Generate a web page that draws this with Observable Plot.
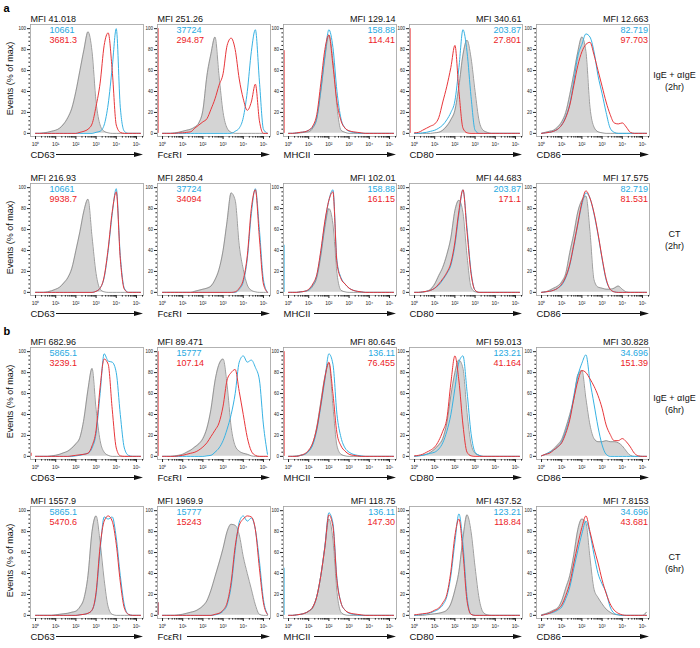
<!DOCTYPE html>
<html>
<head>
<meta charset="utf-8">
<script src="https://cdn.jsdelivr.net/npm/d3@7"></script>
<script src="https://cdn.jsdelivr.net/npm/@observablehq/plot@0.6"></script>
<style>
  body { margin: 0; background: #fff; }
  #chart { position: relative; width: 700px; height: 648px; overflow: hidden; background: #fff; }
</style>
</head>
<body>
<div id="chart"></div>
<script>
// ---------- DATA ----------
// log10 fluorescence grid shared by all histograms (10^0 ... 10^5.2)
const logGrid = [0,0.2,0.4,0.6,0.8,1,1.2,1.4,1.6,1.8,2,2.2,2.4,2.6,2.8,3,3.2,3.4,3.6,3.8,4,4.2,4.4,4.6,4.8,5,5.2];

const markers = ["CD63", "FcεRI", "MHCII", "CD80", "CD86"];
const rowLabels = ["IgE + αIgE\n(2hr)", "CT\n(2hr)", "IgE + αIgE\n(6hr)", "CT\n(6hr)"];
const panelLetters = ["a", "", "b", ""];
const xTickLabels = ["10⁰", "10¹", "10²", "10³", "10⁴", "10⁵"];
const yTickLabels = [0, 20, 40, 60, 80, 100];

// MFI labels (grey / blue / red)
const mfiIgE2 = ["41.018", "251.26", "129.14", "340.61", "12.663"];
const blueIgE2 = ["10661", "37724", "158.88", "203.87", "82.719"];
const redIgE2 = ["3681.3", "294.87", "114.41", "27.801", "97.703"];
const mfiCT2 = ["216.93", "2850.4", "102.01", "44.683", "17.575"];
const blueCT2 = ["10661", "37724", "158.88", "203.87", "82.719"];
const redCT2 = ["9938.7", "34094", "161.15", "171.1", "81.531"];
const mfiIgE6 = ["682.96", "89.471", "80.645", "59.013", "30.828"];
const blueIgE6 = ["5865.1", "15777", "136.11", "123.21", "34.696"];
const redIgE6 = ["3239.1", "107.14", "76.455", "41.164", "151.39"];
const mfiCT6 = ["1557.9", "1969.9", "118.75", "437.52", "7.8153"];
const blueCT6 = ["5865.1", "15777", "136.11", "123.21", "34.696"];
const redCT6 = ["5470.6", "15243", "147.30", "118.84", "43.681"];

// events piled at the lowest channel (% of max), per column
const edgeRedIgE2 = [0, 100, 79, 100, 0];
const edgeBlueIgE2 = [0, 0, 0, 0, 0];
const edgeRedCT2 = [0, 0, 0, 0, 0];
const edgeBlueCT2 = [0, 0, 45, 0, 0];
const edgeRedIgE6 = [3, 100, 100, 0, 0];
const edgeBlueIgE6 = [0, 0, 0, 0, 0];
const edgeRedCT6 = [0, 12, 0, 0, 0];
const edgeBlueCT6 = [0, 12, 45, 0, 0];

// Histograms, % of max, sampled on logGrid
const IgE2_CD63_grey = [0,0,0.5,1,2,3,5,9,15,24,40,60,80,97,78,30,8,2,0.5,0,0,0,0,0,0,0,0];
const IgE2_CD63_blue = [0,0,0,0,0,0,0,0,0,0,0,0,0,0,0,1,2,8,28,63,100,25,2,0,0,0,0];
const IgE2_CD63_red  = [0,0,0,0,0,0,0,0,0,0,0,1,2,4,9,26,48,84,96,60,8,1,0,0,0,0,0];
const IgE2_FceRI_grey = [0,0,0,0.5,1,2,3,4,6,10,22,55,76,92,55,20,5,1,0,0,0,0,0,0,0,0,0];
const IgE2_FceRI_blue = [0,0,0,0,0,0,0,0,0,0,0,0,0,0,0,0,0,0,2,5,15,40,78,99,50,4,0];
const IgE2_FceRI_red  = [0,0,0,0,0.5,0.5,1,1.5,5,8,11,14,23,33,46,57,84,91,80,52,33,22,30,47,12,0,0];
const IgE2_MHCII_grey = [0,0,0,0.5,1,1.5,5,14,40,72,94,70,25,3,1,0,0,0,0,0,0,0,0,0,0,0,0];
const IgE2_MHCII_blue = [0,0,0.5,1,1.5,3,6,15,42,74,99,82,40,14,5,2,1,0.5,0,0,0,0,0,0,0,0,0];
const IgE2_MHCII_red  = [0,0,0.5,1,1.5,3,7,18,48,80,94,65,30,12,5,2.5,1.5,1,0.5,0,0,0,0,0,0,0,0];
const IgE2_CD80_grey = [0,0,0,0,0,0.5,1,3,7,13,22,45,75,89,72,40,12,3,1,0,0,0,0,0,0,0,0];
const IgE2_CD80_blue = [0,0,0.5,1,2,3,5,8,13,20,31,63,99,78,35,3,0,0,0,0,0,0,0,0,0,0,0];
const IgE2_CD80_red  = [0.5,1,3,5,7,9,15,30,45,63,84,40,5,0.5,0,0,0,0,0,0,0,0,0,0,0,0,0];
const IgE2_CD86_grey = [0,1,2,3,6,11,20,37,57,78,92,78,25,6,1.5,0.5,0,0,0,0,0,0,0,0,0,0,0];
const IgE2_CD86_blue = [0,0.5,1,2,4,8,16,28,50,74,85,95,92,78,55,38,20,5,1,0,0,0,0,0,0,0,0];
const IgE2_CD86_red  = [0,0.5,1,2,4,8,15,27,46,65,78,85,87,75,60,45,30,18,10,9,10,6,1,0,0,0,0];

const CT2_CD63_grey = [0,0,0,0.5,1.5,3,5,9,14,23,40,58,78,89,53,18,3,0.5,0,0,0,0,0,0,0,0,0];
const CT2_CD63_blue = [0,0,0,0,0,0,0,0,0,0,0,0,0,0,0,1,4,14,40,75,99,35,4,0,0,0,0];
const CT2_CD63_red  = [0,0,0,0,0,0,0,0,0,0,0,0,0,0,0,1,4,15,42,77,96,32,3,0,0,0,0];
const CT2_FceRI_grey = [0,0,0,0,0,0,0,0,1,2,3,4,6,12,22,40,68,95,88,45,22,7,2,0.5,0,0,0];
const CT2_FceRI_blue = [0,0,0,0,0,0,0,0,0,0,0,0,0,0,0,0,0,0,0,3,10,32,75,99,60,12,0];
const CT2_FceRI_red  = [0,0,0,0,0,0,0,0,0,0,0,0,0,0,0,0,0,0,0.5,4,12,35,80,98,52,8,0];
const CT2_MHCII_grey = [0,0,0,0.5,1,2,6,14,35,62,80,65,18,2,0.5,0,0,0,0,0,0,0,0,0,0,0,0];
const CT2_MHCII_blue = [0,0,0,0.5,1,2.5,7,16,38,66,88,98,30,14,8,4,2,1,0.5,0,0,0,0,0,0,0,0];
const CT2_MHCII_red  = [0,0,0,0.5,1,3,8,17,40,68,88,96,28,13,8,4,2,1,0.5,0,0,0,0,0,0,0,0];
const CT2_CD80_grey = [0,0,0,1,3,8,16,24,36,52,78,88,76,35,5,0.5,0,0,0,0,0,0,0,0,0,0,0];
const CT2_CD80_blue = [0,0,0.5,1,2,4,7,12,18,26,45,75,98,62,20,2,0,0,0,0,0,0,0,0,0,0,0];
const CT2_CD80_red  = [0,0,0.5,1,2,4,8,13,19,28,48,78,98,58,18,2,0,0,0,0,0,0,0,0,0,0,0];
const CT2_CD86_grey = [0,0.5,2,4,6,10,18,38,56,77,88,92,58,12,5,4,3,3,4,6,3,0.5,0,0,0,0,0];
const CT2_CD86_blue = [0,0.5,1,2,4,7,14,26,45,65,84,95,90,75,55,32,12,3,0.5,0,0,0,0,0,0,0,0];
const CT2_CD86_red  = [0,0.5,1,2,4,8,15,27,46,66,86,97,90,76,56,33,13,3,0.5,0,0,0,0,0,0,0,0];

const IgE6_CD63_grey = [0,0,0,0,0.5,1,2,3.5,5,8,12,18,36,64,84,45,15,4,1,0,0,0,0,0,0,0,0];
const IgE6_CD63_blue = [0,0,0,0,0,0,0,0,0,0,0.5,1,2,3,8,22,60,98,91,90,80,40,8,1,0,0,0];
const IgE6_CD63_red  = [0,0,0,0,0,0,0,0,0,0.5,1,1.5,2,3,10,25,66,93,88,45,8,0.5,0,0,0,0,0];
const IgE6_FceRI_grey = [0,0,0,0.5,1,2,4,6,9,12,17,27,45,72,88,93,68,28,10,5,3,2,0.5,0,0,0,0];
const IgE6_FceRI_blue = [0,0,0,0,0,0,0,0,0,0,0,0.5,1,4,8,15,26,40,60,90,96,90,92,85,73,30,2];
const IgE6_FceRI_red  = [0,0,0,0,0.5,1,2,3,4,6,9,13,19,25,32,48,73,80,83,62,40,18,5,1,0,0,0];
const IgE6_MHCII_grey = [0,0,0.5,1,2,5,12,28,52,76,89,48,10,2,0.5,0,0,0,0,0,0,0,0,0,0,0,0];
const IgE6_MHCII_blue = [0,0,0,1,2,5,11,25,48,73,98,88,40,18,8,4,2,1,0.5,0,0,0,0,0,0,0,0];
const IgE6_MHCII_red  = [0,0,0,1,2.5,6,13,27,50,75,90,60,22,10,5,2,1,0.5,0,0,0,0,0,0,0,0,0];
const IgE6_CD80_grey = [0,0.5,1,2,4,7,11,17,32,58,80,92,84,42,12,3,1,0,0,0,0,0,0,0,0,0,0];
const IgE6_CD80_blue = [0,0.5,1,2,3,4,7,13,24,40,65,90,96,62,22,4,1,0,0,0,0,0,0,0,0,0,0];
const IgE6_CD80_red  = [0.5,1,2,4,6,9,15,24,36,70,96,72,30,4,0.5,0,0,0,0,0,0,0,0,0,0,0,0];
const IgE6_CD86_grey = [0.5,2,4,7,11,16,27,40,55,78,82,55,30,17,14,14,15,14,14,13,10,5,1,0,0,0,0];
const IgE6_CD86_blue = [0.5,2,4,6,9,14,24,37,58,77,89,97,72,50,28,11,2,0,0,0,0,0,0,0,0,0,0];
const IgE6_CD86_red  = [0.5,2,3,6,9,13,22,35,55,72,82,80,74,67,58,46,30,21,15,15,17,14,9,3,0.5,0,0];

const CT6_CD63_grey = [0,0,0,0,0,0.5,1,1.5,2,3,4,8,16,38,80,95,70,34,8,1,0,0,0,0,0,0,0];
const CT6_CD63_blue = [0,0,0,0,0,0,0,0,0,0,0,0.5,1,2,5,20,62,94,92,94,74,38,10,1,0,0,0];
const CT6_CD63_red  = [0,0,0,0,0,0,0,0,0,0,0,0.5,1,2,5,22,66,90,95,90,68,32,7,1,0,0,0];
const CT6_FceRI_grey = [0,0,0,0,0.5,1,2,3,4,6,9,14,24,37,50,64,80,87,86,77,56,40,25,10,1,0,0];
const CT6_FceRI_blue = [0,0,0,0,0,0,0,0,0,0,0,0,0,0.5,1.5,4,10,28,62,89,95,90,93,82,52,15,1];
const CT6_FceRI_red  = [0,0,0,0,0,0,0,0,0,0,0,0,0,1,2,5,12,32,66,86,92,95,94,82,45,12,1];
const CT6_MHCII_grey = [0,0,0.5,1,2,4,7,18,38,65,92,72,22,3,0.5,0,0,0,0,0,0,0,0,0,0,0,0];
const CT6_MHCII_blue = [0,0,0.5,1,2,4,8,18,38,66,98,88,35,12,5,2,1,0.5,0,0,0,0,0,0,0,0,0];
const CT6_MHCII_red  = [0,0,0.5,1,2,4,8,18,38,65,96,85,33,12,5,2.5,1.5,1,0.5,0,0,0,0,0,0,0,0];
const CT6_CD80_grey = [0,0,0,0.5,1,1.5,2,3,5,11,24,42,74,96,80,46,16,3,0.5,0,0,0,0,0,0,0,0];
const CT6_CD80_blue = [0,0.5,1,1.5,2.5,4,6,10,18,38,70,97,68,18,1,0,0,0,0,0,0,0,0,0,0,0,0];
const CT6_CD80_red  = [0.5,1,1.5,2,3,5,7,12,20,42,76,92,60,14,1,0,0,0,0,0,0,0,0,0,0,0,0];
const CT6_CD86_grey = [0.5,1.5,3,5,7,14,26,38,58,82,92,88,55,25,17,11,6,3,1,0.5,0,0,0,0,0,0,3];
const CT6_CD86_blue = [0,1,2,3,5,8,16,27,45,62,78,90,78,58,40,30,22,8,2,0.5,0,0,0,0,0,0,0];
const CT6_CD86_red  = [0,1,2,4,6,10,19,31,50,68,84,95,80,64,50,34,21,11,5,2,0.5,0,0,0,0,0,0];

// ---------- ASSEMBLY ----------
const series = [
  [[IgE2_CD63_grey, IgE2_CD63_blue, IgE2_CD63_red], [IgE2_FceRI_grey, IgE2_FceRI_blue, IgE2_FceRI_red], [IgE2_MHCII_grey, IgE2_MHCII_blue, IgE2_MHCII_red], [IgE2_CD80_grey, IgE2_CD80_blue, IgE2_CD80_red], [IgE2_CD86_grey, IgE2_CD86_blue, IgE2_CD86_red]],
  [[CT2_CD63_grey, CT2_CD63_blue, CT2_CD63_red], [CT2_FceRI_grey, CT2_FceRI_blue, CT2_FceRI_red], [CT2_MHCII_grey, CT2_MHCII_blue, CT2_MHCII_red], [CT2_CD80_grey, CT2_CD80_blue, CT2_CD80_red], [CT2_CD86_grey, CT2_CD86_blue, CT2_CD86_red]],
  [[IgE6_CD63_grey, IgE6_CD63_blue, IgE6_CD63_red], [IgE6_FceRI_grey, IgE6_FceRI_blue, IgE6_FceRI_red], [IgE6_MHCII_grey, IgE6_MHCII_blue, IgE6_MHCII_red], [IgE6_CD80_grey, IgE6_CD80_blue, IgE6_CD80_red], [IgE6_CD86_grey, IgE6_CD86_blue, IgE6_CD86_red]],
  [[CT6_CD63_grey, CT6_CD63_blue, CT6_CD63_red], [CT6_FceRI_grey, CT6_FceRI_blue, CT6_FceRI_red], [CT6_MHCII_grey, CT6_MHCII_blue, CT6_MHCII_red], [CT6_CD80_grey, CT6_CD80_blue, CT6_CD80_red], [CT6_CD86_grey, CT6_CD86_blue, CT6_CD86_red]]
];
const mfiText = [mfiIgE2, mfiCT2, mfiIgE6, mfiCT6];
const blueText = [blueIgE2, blueCT2, blueIgE6, blueCT6];
const redText = [redIgE2, redCT2, redIgE6, redCT6];
const edgeRed = [edgeRedIgE2, edgeRedCT2, edgeRedIgE6, edgeRedCT6];
const edgeBlue = [edgeBlueIgE2, edgeBlueCT2, edgeBlueIgE6, edgeBlueCT6];

// ---------- LAYOUT / STYLE ----------
const colLeft = [30, 156.5, 283, 409, 536];
const rowTop = [24, 183, 347, 506];
const FW = 113, FH = 112;
const ML = 30, MT = 18, MB = 30;
const arrowStart = [26, 30, 31, 27, 26];
const BLUE = "#37b2e3", RED = "#e8363a", BLUE_TXT = "#27a9e1", RED_TXT = "#ec2227";
const FONT = "'Liberation Sans', Arial, Helvetica, sans-serif";
const minorX = d3.range(0, 6).flatMap(d => d3.range(2, 10).map(k => d + Math.log10(k))).filter(v => v < 5.35);
const minorY = d3.range(0, 101, 4).filter(v => v % 20 !== 0);
const X = (d, i) => logGrid[i];

function arrowMark(c) {
  return (index, scales, values, dims) => {
    const y = dims.height - dims.marginBottom + 18.5;
    const x1 = dims.marginLeft + arrowStart[c];
    const x2 = dims.marginLeft + FW;
    const g = d3.create("svg:g");
    g.append("line").attr("x1", x1).attr("x2", x2 - 7).attr("y1", y).attr("y2", y)
      .attr("stroke", "#111").attr("stroke-width", 1);
    g.append("path").attr("d", `M${x2 - 9},${y - 2.4}L${x2},${y}L${x2 - 9},${y + 2.4}Z`).attr("fill", "#111");
    return g.node();
  };
}

const chart = document.getElementById("chart");

for (let r = 0; r < 4; r++) {
  for (let c = 0; c < 5; c++) {
    const [grey, blue, red] = series[r][c];
    const MR = c === 4 ? 52 : 4;
    const left = c < 2;
    const anchor = left ? "top-left" : "top-right";
    const tAnchor = left ? "start" : "end";
    const marks = [
      Plot.areaY(grey, {x: X, y: d => d, fill: "#d4d4d4", curve: "monotone-x"}),
      Plot.lineY(grey, {x: X, y: d => d, stroke: "#858585", strokeWidth: 0.8, curve: "monotone-x"}),
      Plot.lineY(blue, {x: X, y: d => d, stroke: BLUE, strokeWidth: 1, curve: "monotone-x"}),
      Plot.lineY(red, {x: X, y: d => d, stroke: RED, strokeWidth: 1, curve: "monotone-x"}),
      Plot.frame({stroke: "#a0a0a0", strokeWidth: 0.8}),
      Plot.axisX(xTickLabels.map((t, i) => i), {anchor: "bottom", tickSize: 3, tickPadding: 3, fontSize: 5, tickFormat: d => xTickLabels[d], label: null}),
      Plot.axisX(minorX, {anchor: "bottom", tickSize: 1.6, tickFormat: () => "", label: null}),
      Plot.axisY(yTickLabels, {anchor: "left", tickSize: 3, tickPadding: 1.5, fontSize: 4.5, label: null}),
      Plot.axisY(minorY, {anchor: "left", tickSize: 1.6, tickFormat: () => "", label: null}),
      Plot.text([`MFI ${mfiText[r][c]}`], {text: d => d, frameAnchor: anchor, textAnchor: tAnchor, lineAnchor: "bottom", dy: -3, dx: left ? 0 : -1, fontSize: 9, fill: "#111"}),
      Plot.text([blueText[r][c]], {text: d => d, frameAnchor: anchor, textAnchor: tAnchor, lineAnchor: "middle", dy: 5.5, dx: left ? 19 : -1.5, fontSize: 9, fill: BLUE_TXT}),
      Plot.text([redText[r][c]], {text: d => d, frameAnchor: anchor, textAnchor: tAnchor, lineAnchor: "middle", dy: 15.5, dx: left ? 19 : -1.5, fontSize: 9, fill: RED_TXT}),
      Plot.text([markers[c]], {text: d => d, frameAnchor: "bottom-left", textAnchor: "start", lineAnchor: "middle", dy: 18.5, fontSize: 9.5, fill: "#111"}),
      arrowMark(c)
    ];
    if (edgeRed[r][c] > 0) marks.splice(4, 0, Plot.ruleX([edgeRed[r][c]], {x: -0.22, y1: 0, y2: d => d, stroke: RED, strokeWidth: 1}));
    if (edgeBlue[r][c] > 0) marks.splice(4, 0, Plot.ruleX([edgeBlue[r][c]], {x: -0.22, y1: 0, y2: d => d, stroke: BLUE, strokeWidth: 1}));
    if (c === 0) {
      marks.push(Plot.text(["Events (% of max)"], {text: d => d, frameAnchor: "left", rotate: -90, dx: -20, dy: -2, textAnchor: "middle", lineAnchor: "middle", fontSize: 9, fill: "#111"}));
      if (panelLetters[r]) marks.push(Plot.text([panelLetters[r]], {text: d => d, frameAnchor: "top-left", textAnchor: "start", lineAnchor: "middle", dx: -27, dy: -16, fontSize: 11, fontWeight: "bold", fill: "#000"}));
    }
    if (c === 4) {
      marks.push(Plot.text([rowLabels[r]], {text: d => d, frameAnchor: "right", textAnchor: "middle", lineAnchor: "middle", dx: 25, fontSize: 9, lineHeight: 1.3, fill: "#111"}));
    }
    const svg = Plot.plot({
      width: ML + FW + MR,
      height: MT + FH + MB,
      marginLeft: ML, marginRight: MR, marginTop: MT, marginBottom: MB,
      x: {domain: [-0.25, 5.35]},
      y: {domain: [-3, 104]},
      style: {fontFamily: FONT, background: "transparent", overflow: "visible", color: "#222"},
      marks
    });
    svg.style.position = "absolute";
    svg.style.left = (colLeft[c] - ML) + "px";
    svg.style.top = (rowTop[r] - MT) + "px";
    chart.appendChild(svg);
  }
}
</script>
</body>
</html>
